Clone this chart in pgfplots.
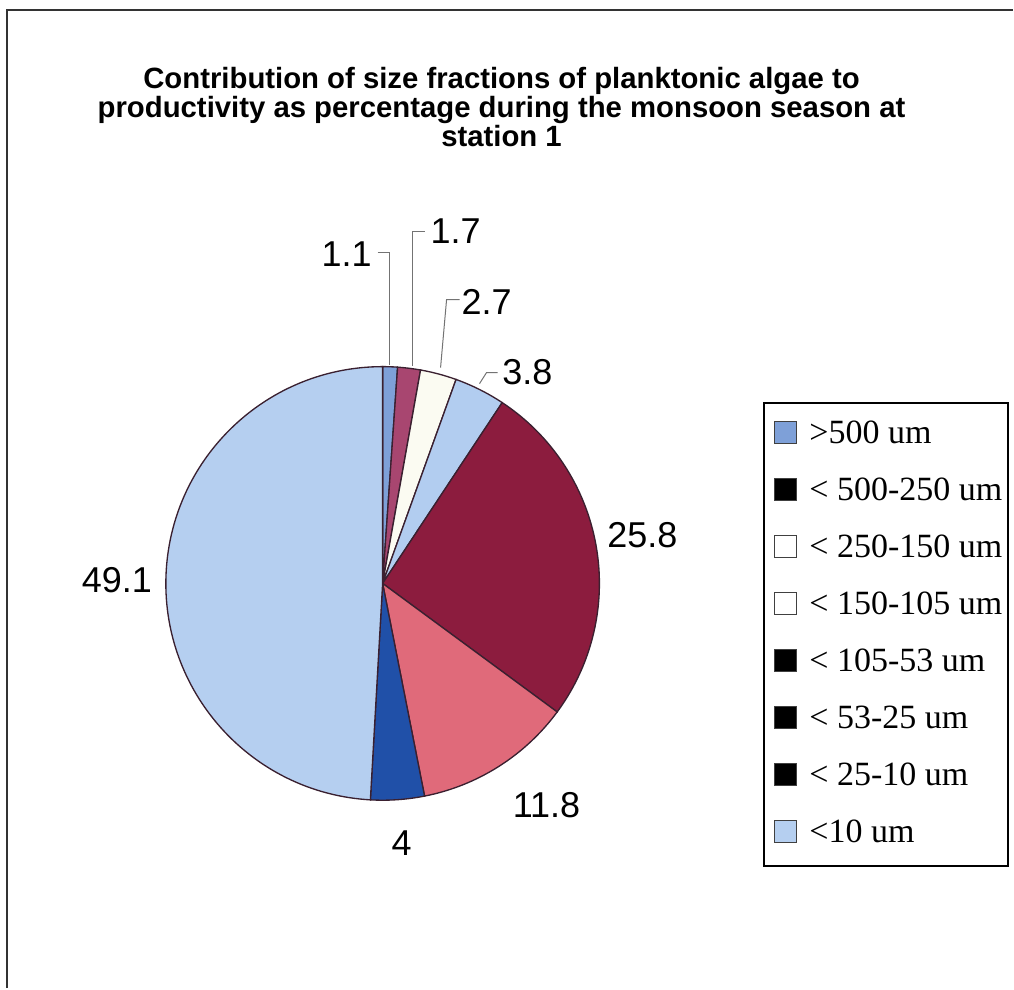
\documentclass[border=0pt]{standalone}
\usepackage{fontspec}
\setmainfont{Liberation Sans}
\newfontfamily\legendfont{Liberation Serif}
\usepackage{pgfplots}
\usepackage{pgfplotstable}
\pgfplotsset{compat=1.18}

\definecolor{s1}{HTML}{7EA0D8}
\definecolor{s2}{HTML}{A84670}
\definecolor{s3}{HTML}{FBFBF2}
\definecolor{s4}{HTML}{B2CDF0}
\definecolor{s5}{HTML}{8C1C3E}
\definecolor{s6}{HTML}{E06A7A}
\definecolor{s7}{HTML}{2050A8}
\definecolor{s8}{HTML}{B5CFF0}
\definecolor{edge}{HTML}{3A2030}

% share in percent, slice colour, legend marker colour, label position (pixels from top left)
\pgfplotstableread{
name value slice mark lx ly
{>500 um} 1.1 s1 s1 347 254
{< 500-250 um} 1.7 s2 black 456 231
{< 250-150 um} 2.7 s3 white 487 302
{< 150-105 um} 3.8 s4 white 528 372
{< 105-53 um} 25.8 s5 black 643 536
{< 53-25 um} 11.8 s6 black 547 806
{< 25-10 um} 4 s7 black 402 844
{<10 um} 49.1 s8 s8 117 581
}\piedata

\tikzset{
  lbl/.style={font=\fontsize{27}{30}\selectfont},
  leg/.style={anchor=west, inner sep=0pt, font=\legendfont\fontsize{25.5}{28}\selectfont},
  leader/.style={draw=black!55, line width=0.75pt},
}

\begin{document}
\begin{tikzpicture}
\begin{axis}[
  scale only axis,
  width=760.5pt, height=741.75pt,
  xmin=0, xmax=1014, ymin=0, ymax=989,
  hide axis, clip=false,
]
\path (axis cs:0,0) rectangle (axis cs:1014,989);
\draw[line width=1.5pt, black!80] (axis cs:7,0) -- (axis cs:7,979) -- (axis cs:1014,979);

\node[align=center, font=\fontsize{22}{21.6}\selectfont\bfseries] at (axis cs:502,882)
  {Contribution of size fractions of planktonic algae to\\
   productivity as percentage during the monsoon season at\\
   station 1};

\def\R{162.75}
\def\sa{90}
\pgfplotstablegetrowsof{\piedata}
\pgfmathtruncatemacro\last{\pgfplotsretval-1}
\pgfplotsforeachungrouped \i in {0,...,\last}{%
  \pgfplotstablegetelem{\i}{value}\of\piedata \let\v\pgfplotsretval
  \pgfplotstablegetelem{\i}{slice}\of\piedata \let\sc\pgfplotsretval
  \pgfplotstablegetelem{\i}{mark}\of\piedata \let\mc\pgfplotsretval
  \pgfplotstablegetelem{\i}{name}\of\piedata \let\nm\pgfplotsretval
  \pgfplotstablegetelem{\i}{lx}\of\piedata \let\lx\pgfplotsretval
  \pgfplotstablegetelem{\i}{ly}\of\piedata \let\lyy\pgfplotsretval
  \pgfmathsetmacro\ea{\sa-3.6*\v}
  \pgfmathsetmacro\ly{989-\lyy}
  \pgfmathsetmacro\ry{989-(433+57*\i)}
  \pgfmathsetmacro\ryl{\ry-11}
  \pgfmathsetmacro\ryh{\ry+11}
  \edef\slice{%
    \noexpand\filldraw[fill=\sc, draw=edge, line width=1pt] (axis cs:383,405) -- ++(\sa:\R pt)
      arc[start angle=\sa, end angle=\ea, radius=\R pt] -- cycle;
    \noexpand\node[lbl] at (axis cs:\lx,\ly) {\v};
    \noexpand\filldraw[fill=\mc, draw=black!75, line width=0.75pt] (axis cs:775,\ryl) rectangle (axis cs:797,\ryh);
    \noexpand\node[leg] at (axis cs:810,\ry) {\nm};
  }%
  \slice
  \let\sa\ea
}

% leader lines of the small slices
\draw[leader] (axis cs:378,736) -- (axis cs:390,736) -- (axis cs:390,624);
\draw[leader] (axis cs:425,757) -- (axis cs:413,757) -- (axis cs:413,623);
\draw[leader] (axis cs:460,689) -- (axis cs:447,689) -- (axis cs:441,621);
\draw[leader] (axis cs:498,616) -- (axis cs:487,616) -- (axis cs:480,605);

% legend frame
\draw[line width=1.5pt] (axis cs:765,586) rectangle (axis cs:1009,122);
\end{axis}
\end{tikzpicture}
\end{document}
